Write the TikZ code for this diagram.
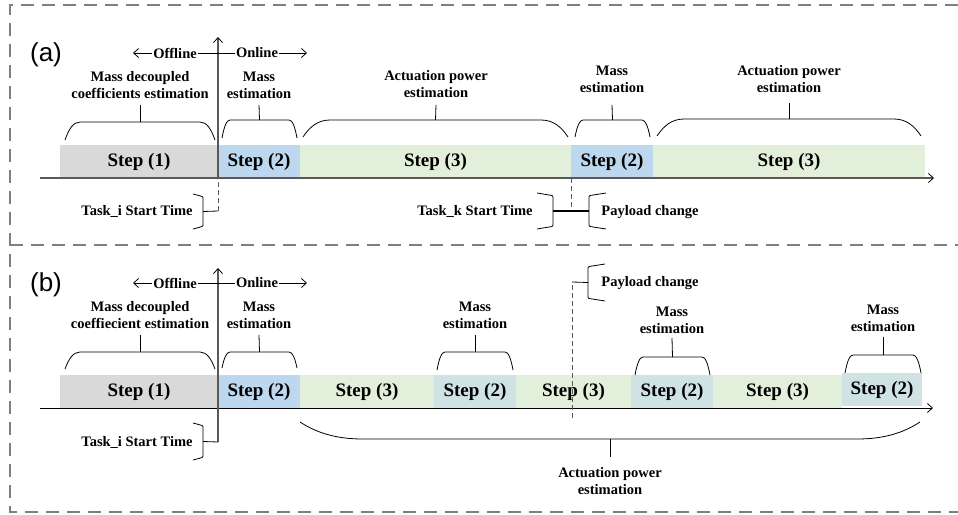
\documentclass[tikz,border=0pt]{standalone}
\usepackage{fontspec}
\setmainfont{Liberation Serif}
\newfontfamily\sansf{Liberation Sans}
\usetikzlibrary{arrows.meta}
\definecolor{cgray}{HTML}{D9D9D9}
\definecolor{cblue}{HTML}{BDD7EE}
\definecolor{cgreen}{HTML}{E2EFDA}
\definecolor{cteal}{HTML}{D0E3E4}
\definecolor{caxis}{HTML}{595959}
\definecolor{cframe}{HTML}{7F7F7F}
\tikzset{mytip/.tip={Straight Barb[length=5pt,width=9pt,line width=0.8pt,color=black]},
  thintip/.tip={Straight Barb[length=5pt,width=9pt,line width=0.8pt]}}
% brace with flat top: name, x1, x2, y-flat, y-ends, corner
\newcommand\flatbrace[6]{%
  \coordinate (#1) at ({(#2+#3)/2},#4);
  \draw[brc] (#2,#5) .. controls ({#2+0.25*#6},{#5-0.6*(#5-#4)}) and ({#2+0.55*#6},#4) .. ({#2+#6},#4)
    -- ({#3-#6},#4) .. controls ({#3-0.55*#6},#4) and ({#3-0.25*#6},{#5-0.6*(#5-#4)}) .. (#3,#5);}
% side bracket: name, x, y1, y2, lip width (negative = opens right)
\newcommand\sidebrace[5]{%
  \coordinate (#1) at (#2,{(#3+#4)/2});
  \draw[brc] ({#2-#5},#3) -- ({#2-0.25*#5},{#3+2}) .. controls (#2,{#3+2.5}) .. (#2,{#3+6})
    -- (#2,{#4-6}) .. controls (#2,{#4-2.5}) .. ({#2-0.25*#5},{#4-2}) -- ({#2-#5},#4);}
\begin{document}
\begin{tikzpicture}[x=1pt,y=-1pt,
  brc/.style={draw=black,line width=0.8pt},
  lbl/.style={font=\fontsize{14.5}{17}\selectfont\bfseries,align=center,inner xsep=0pt,inner ysep=#1},
  lbl/.default=6pt,
  txt/.style={font=\fontsize{14.5}{17}\selectfont\bfseries,inner sep=0pt},
  stepbox/.style={font=\fontsize{19}{22}\selectfont\bfseries,inner sep=0pt,minimum height=33pt},
  panel/.style={font=\sansf\fontsize{26}{28}\selectfont,inner sep=0pt},
  frame/.style={draw=cframe,line width=1.5pt,dash pattern=on 13pt off 8pt},
  gaxis/.style={draw=caxis,line width=1.5pt},
  onoff/.style={txt,fill=white,inner xsep=1pt,inner ysep=0pt}]
\useasboundingbox (0,0) rectangle (958,514);
% frames
\coordinate (f1) at (10,5); \coordinate (f2) at (958,5);
\coordinate (f3) at (10,245); \coordinate (f4) at (958,245);
\coordinate (f5) at (10,512); \coordinate (f6) at (958,512);
\draw[frame] (f2) -- (f1) -- (f5) -- (f6);
\draw[frame] (f3) -- (f4);

% ================= (a) =================
\node[panel] (pa) at (46,55) {(a)};
\node[stepbox,fill=cgray,minimum width=158pt] (A1) at (139,161.5) {Step (1)};
\node[stepbox,fill=cblue,minimum width=82pt] (A2) at (259,161.5) {Step (2)};
\node[stepbox,fill=cgreen,minimum width=271pt] (A3) at (435.5,161.5) {Step (3)};
\node[stepbox,fill=cblue,minimum width=82pt] (A4) at (612,161.5) {Step (2)};
\node[stepbox,fill=cgreen,minimum width=272pt] (A5) at (789,161.5) {Step (3)};
% time axis
\coordinate (axa0) at (40,178); \coordinate (axa1) at (934,178);
\draw[gaxis,-{mytip}] (axa0) -- (axa1);
% vertical axis
\coordinate (va0) at (218,211); \coordinate (va1) at (218,178); \coordinate (va2) at (218,37);
\draw[draw=caxis,line width=1pt,dash pattern=on 5pt off 3pt] (va0) -- (va1);
\draw[gaxis,-{mytip}] (va1) -- (va2);
% offline / online
\coordinate (oa0) at (133,53); \coordinate (oa1) at (307,53);
\draw[line width=0.8pt,{thintip}-{thintip}] (oa0) -- (oa1);
\node[onoff] (offa) at (175,53) {Offline};
\node[onoff] (ona) at (257,53) {Online};
% labels and braces
\node[lbl=6pt,anchor=south] (LA1) at (140,105) {Mass decoupled\\coefficients estimation};
\node[lbl=6pt,anchor=south] (LA2) at (259,105) {Mass\\estimation};
\node[lbl=7pt,anchor=south] (LA3) at (436,105) {Actuation power\\estimation};
\node[lbl=12pt,anchor=south] (LA4) at (612,105) {Mass\\estimation};
\node[lbl=10pt,anchor=south] (LA5) at (789,103) {Actuation power\\estimation};
\flatbrace{BA1}{65}{215}{122}{140}{15}
\flatbrace{BA2}{222}{297}{120}{138}{8}
\flatbrace{BA3}{303}{568}{120}{137}{27}
\flatbrace{BA4}{575}{650}{120}{137}{8}
\flatbrace{BA5}{657}{921}{119}{136}{27}
\draw[brc] (BA1) -- (LA1.south);
\draw[brc] (BA2) -- (LA2.south);
\draw[brc] (BA3) -- (LA3.south);
\draw[brc] (BA4) -- (LA4.south);
\draw[brc] (BA5) -- (LA5.south);
% task i
\node[txt] (TIa) at (137,211) {Task\_i Start Time};
\sidebrace{SIa}{203}{194}{229}{10}
\draw[brc] (SIa) -- (va0);
% task k / payload
\node[txt] (TKa) at (475,211) {Task\_k Start Time};
\node[txt] (PCa) at (650,212) {Payload change};
\sidebrace{SKa}{553}{193}{229}{16}
\sidebrace{SPa}{589}{193}{229}{-17}
\coordinate (pka0) at (571,178); \coordinate (pka1) at (571,211);
\draw[draw=caxis,line width=1pt,dash pattern=on 5pt off 3pt] (pka0) -- (pka1);
\draw[brc,line width=1.3pt] (SKa) -- (SPa);

% ================= (b) =================
\node[panel] (pb) at (46,285) {(b)};
\node[stepbox,fill=cgray,minimum width=158pt] (B1) at (139,391.5) {Step (1)};
\node[stepbox,fill=cblue,minimum width=82pt] (B2) at (259,391.5) {Step (2)};
\node[stepbox,fill=cgreen,minimum width=134pt] (B3) at (367,391.5) {Step (3)};
\node[stepbox,fill=cteal,minimum width=82pt] (B4) at (475,391.5) {Step (2)};
\node[stepbox,fill=cgreen,minimum width=115pt] (B5) at (573.5,391.5) {Step (3)};
\node[stepbox,fill=cteal,minimum width=82pt] (B6) at (672,391.5) {Step (2)};
\node[stepbox,fill=cgreen,minimum width=129pt] (B7) at (777.5,391.5) {Step (3)};
\node[stepbox,fill=cteal,minimum width=80pt] (B8) at (882,389.5) {Step (2)};
% time axis
\coordinate (axb0) at (40,408); \coordinate (axb1) at (933,408);
\draw[line width=0.9pt,-{mytip}] (axb0) -- (axb1);
% vertical axis
\coordinate (vb0) at (218,442); \coordinate (vb2) at (218,268);
\draw[gaxis,-{mytip}] (vb0) -- (vb2);
% offline / online
\coordinate (ob0) at (133,283); \coordinate (ob1) at (307,283);
\draw[line width=0.8pt,{thintip}-{thintip}] (ob0) -- (ob1);
\node[onoff] (offb) at (175,283) {Offline};
\node[onoff] (onb) at (257,283) {Online};
% labels and braces
\node[lbl=6pt,anchor=south] (LB1) at (140,335) {Mass decoupled\\coeffiecient estimation};
\node[lbl=6pt,anchor=south] (LB2) at (259,335) {Mass\\estimation};
\node[lbl=6pt,anchor=south] (LB3) at (475,335) {Mass\\estimation};
\node[lbl=4pt,anchor=south] (LB4) at (672,338) {Mass\\estimation};
\node[lbl=5pt,anchor=south] (LB5) at (883,337) {Mass\\estimation};
\flatbrace{BB1}{65}{215}{352}{369}{15}
\flatbrace{BB2}{222}{297}{352}{368}{8}
\flatbrace{BB3}{437}{513}{352}{370}{8}
\flatbrace{BB4}{635}{710}{357}{375}{8}
\flatbrace{BB5}{845}{921}{355}{373}{8}
\draw[brc] (BB1) -- (LB1.south);
\draw[brc] (BB2) -- (LB2.south);
\draw[brc] (BB3) -- (LB3.south);
\draw[brc] (BB4) -- (LB4.south);
\draw[brc] (BB5) -- (LB5.south);
% bottom brace
\node[lbl=10pt,anchor=north] (LB6) at (610,457) {Actuation power\\estimation};
\flatbrace{BB6}{300}{920}{439}{422}{63}
\draw[brc] (BB6) -- (LB6.north);
% task i
\node[txt] (TIb) at (137,442) {Task\_i Start Time};
\sidebrace{SIb}{203}{423}{460}{10}
\draw[brc] (SIb) -- (vb0);
% payload change
\node[txt] (PCb) at (650,283) {Payload change};
\sidebrace{SPb}{588}{264}{301}{-17}
\coordinate (pkb0) at (572,418); \coordinate (pkb1) at (572,282);
\draw[draw=caxis,line width=1pt,dash pattern=on 5pt off 3pt] (pkb0) -- (pkb1);
\draw[brc] (pkb1) -- (SPb);
\end{tikzpicture}
\end{document}
